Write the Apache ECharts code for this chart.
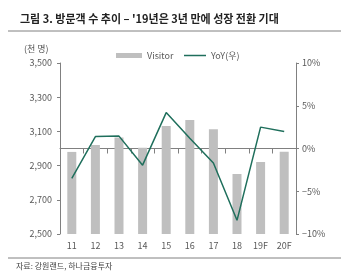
<!DOCTYPE html>
<html>
<head>
<meta charset="utf-8">
<script src="https://cdn.jsdelivr.net/npm/echarts@6/dist/echarts.min.js"></script>
<style>
  html, body { margin: 0; padding: 0; background: #fff; }
  #container { width: 350px; height: 279px; }
</style>
</head>
<body>
<div id="container"></div>
<script>
var years = ['11', '12', '13', '14', '15', '16', '17', '18', '19F', '20F'];
var visitors = [2980, 3020, 3065, 3005, 3132, 3167, 3112, 2851, 2921, 2981];
var yoy = [-3.5, 1.4, 1.45, -1.95, 4.2, 1.2, -1.7, -8.4, 2.5, 2.0];

var leftTicks = [2500, 2700, 2900, 3100, 3300, 3500];
var rightTicks = [-10, -5, 0, 5, 10];

var font = '"Noto Sans CJK KR", "Noto Sans", sans-serif';
var labelColor = '#595959';
var lineColor = '#1f6f5c';

var dom = document.getElementById('container');
var myChart = echarts.init(dom);

var option = {
  animation: false,
  textStyle: { fontFamily: font },
  title: {
    text: "그림 3. 방문객 수 추이 – '19년은 3년 만에 성장 전환 기대",
    left: 15,
    top: 8,
    textStyle: { fontSize: 11, fontWeight: 'bold', color: '#222', fontFamily: font }
  },
  graphic: [
    { type: 'line', shape: { x1: 8, y1: 31, x2: 341, y2: 31 }, style: { stroke: '#808080', lineWidth: 1 } },
    { type: 'line', shape: { x1: 8, y1: 258, x2: 341, y2: 258 }, style: { stroke: '#808080', lineWidth: 1 } },
    { type: 'text', left: 16, top: 262, style: { text: '자료: 강원랜드, 하나금융투자', fontSize: 8, fill: '#444', fontFamily: font } },
    { type: 'text', left: 24, top: 44, style: { text: '(천 명)', fontSize: 9, fill: labelColor, fontFamily: font } }
  ],
  legend: [
    {
      top: 46,
      left: 111,
      itemWidth: 26,
      itemHeight: 5,
      itemGap: 4,
      textStyle: { fontSize: 9, color: labelColor, fontFamily: font },
      data: [{ name: 'Visitor', icon: 'rect' }]
    },
    {
      top: 46,
      left: 179,
      itemWidth: 22,
      itemHeight: 5,
      textStyle: { fontSize: 9, color: labelColor, fontFamily: font },
      data: [{ name: 'YoY(우)', icon: 'path://M0,0h22v1.5h-22z', itemStyle: { color: lineColor } }]
    }
  ],
  grid: { left: 60, right: 54, top: 63, bottom: 45 },
  xAxis: {
    type: 'category',
    data: years,
    axisLine: { lineStyle: { color: '#808080' } },
    axisTick: { show: true, lineStyle: { color: '#808080' } },
    axisLabel: { fontSize: 9, color: labelColor, margin: 7 }
  },
  yAxis: [
    {
      type: 'value',
      min: 2500,
      max: 3500,
      interval: 200,
      splitLine: { show: false },
      axisLine: { show: true, lineStyle: { color: '#808080' } },
      axisTick: { show: true, length: 3, lineStyle: { color: '#808080' } },
      axisLabel: {
        fontSize: 9,
        color: labelColor,
        margin: 8,
        formatter: function (v) { return leftTicks.indexOf(v) >= 0 ? v.toLocaleString('en-US') : ''; }
      }
    },
    {
      type: 'value',
      min: -10,
      max: 10,
      interval: 5,
      splitLine: { show: false },
      axisLine: { show: true, lineStyle: { color: '#808080' } },
      axisTick: { show: true, length: 3, lineStyle: { color: '#808080' } },
      axisLabel: {
        fontSize: 9,
        color: labelColor,
        margin: 6,
        formatter: function (v) { return rightTicks.indexOf(v) >= 0 ? (v < 0 ? '−' + (-v) : v) + '%' : ''; }
      }
    }
  ],
  series: [
    {
      name: 'Visitor',
      type: 'bar',
      data: visitors,
      barWidth: 9,
      itemStyle: { color: '#bfbfbf' }
    },
    {
      name: 'YoY(우)',
      type: 'line',
      yAxisIndex: 1,
      data: yoy,
      symbol: 'none',
      lineStyle: { color: lineColor, width: 1.5 },
      itemStyle: { color: lineColor }
    }
  ]
};

if (option && typeof option === 'object') {
  myChart.setOption(option);
}
</script>
</body>
</html>
